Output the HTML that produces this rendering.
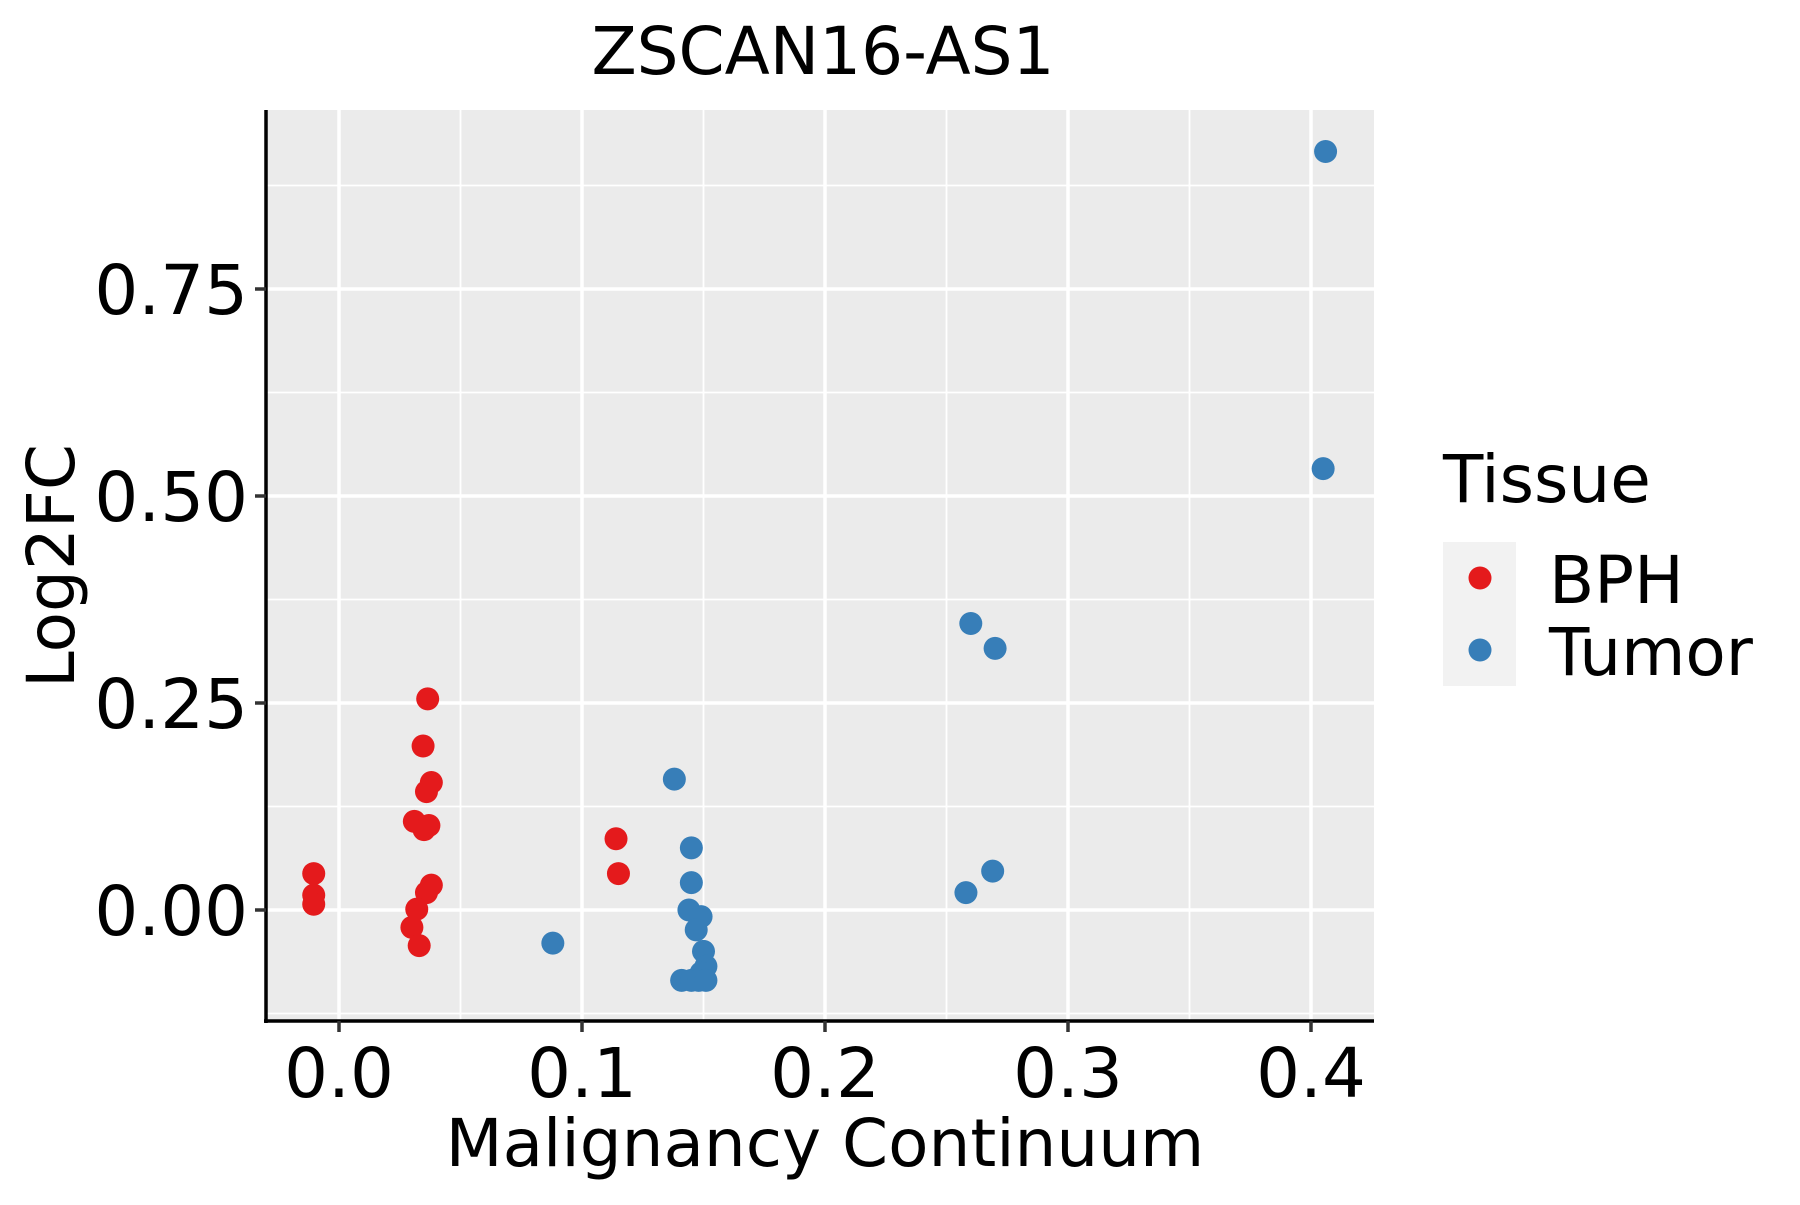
<!DOCTYPE html>
<html><head><meta charset="utf-8"><style>
body{margin:0;background:#fff}
svg text{font-family:"DejaVu Sans","Liberation Sans",sans-serif}
</style></head><body>
<svg width="1800" height="1200" xmlns="http://www.w3.org/2000/svg">
<g id="g"></g>
</svg>
<script>
const xTicks=[0,0.1,0.2,0.3,0.4];
const xTickLabels=["0.0","0.1","0.2","0.3","0.4"];
const yTicks=[0,0.25,0.5,0.75];
const yTickLabels=["0.00","0.25","0.50","0.75"];
const bphX=[-0.0104,-0.0104,-0.0104,0.0365,0.0346,0.038,0.036,0.031,0.035,0.037,0.038,0.036,0.032,0.030,0.033,0.114,0.115];
const bphY=[0.044,0.018,0.007,0.255,0.198,0.154,0.143,0.107,0.097,0.102,0.030,0.021,0.001,-0.021,-0.043,0.086,0.044];
const tumX=[0.088,0.138,0.145,0.145,0.144,0.149,0.147,0.150,0.151,0.149,0.141,0.145,0.148,0.151,0.260,0.270,0.269,0.258,0.406,0.405];
const tumY=[-0.040,0.158,0.075,0.033,0.000,-0.008,-0.024,-0.050,-0.068,-0.076,-0.085,-0.085,-0.085,-0.085,0.346,0.316,0.047,0.021,0.916,0.533];
const L=266,R=1381-7,T=110,B=1021;
const X=v=>339+v*2430, Y=v=>910-v*828;
const g=document.getElementById('g');const NS='http://www.w3.org/2000/svg';
function mk(t,a,txt){const e=document.createElementNS(NS,t);for(const k in a)e.setAttribute(k,a[k]);if(txt!==undefined)e.textContent=txt;g.appendChild(e);return e;}
let e=mk('rect',{x:L,y:T,width:R-L,height:B-T,fill:'#ebebeb'});


for(let v=-0.05;v<=0.43;v+=0.05){const x=X(v);if(x<L||x>R)continue;const major=Math.abs(v*10-Math.round(v*10))<1e-6;
e=mk('line',{x1:x,x2:x,y1:T,y2:B,stroke:'#fff','stroke-width':major?3.5:1.8});

}
for(let v=-0.125;v<=0.96;v+=0.125){const y=Y(v);if(y<T||y>B)continue;const major=Math.abs(v/0.25-Math.round(v/0.25))<1e-6;
e=mk('line',{x1:L,x2:R,y1:y,y2:y,stroke:'#fff','stroke-width':major?3.5:1.8});

}
function pts(xs,ys,c,n){for(let i=0;i<xs.length;i++){e=mk('circle',{cx:X(xs[i]),cy:Y(ys[i]),r:11.5,fill:c});

}}
pts(bphX,bphY,'#e41a1c','bph-point');
pts(tumX,tumY,'#377eb8','tumor-point');
e=mk('line',{x1:L,x2:L,y1:T,y2:B+2,stroke:'#000','stroke-width':3.5});


e=mk('line',{x1:L-2,x2:R,y1:B,y2:B,stroke:'#000','stroke-width':3.5});


xTicks.forEach((v,i)=>{const x=X(v);mk('line',{x1:x,x2:x,y1:B,y2:B+11,stroke:'#333','stroke-width':3.5});
e=mk('text',{x:x,y:1097,'font-size':69,'text-anchor':'middle',fill:'#000'},xTickLabels[i]);

});
yTicks.forEach((v,i)=>{const y=Y(v);mk('line',{x1:L-11,x2:L,y1:y,y2:y,stroke:'#333','stroke-width':3.5});
e=mk('text',{x:248,y:y+25,'font-size':69,'text-anchor':'end',fill:'#000'},yTickLabels[i]);

});
e=mk('text',{x:823,y:74,'font-size':66,'text-anchor':'middle'},'ZSCAN16-AS1');


e=mk('text',{x:825,y:1166,'font-size':66,'text-anchor':'middle'},'Malignancy Continuum');


e=mk('text',{x:0,y:0,'font-size':66,'text-anchor':'middle',transform:'translate(74,566) rotate(-90)'},'Log2FC');


e=mk('text',{x:1443,y:502,'font-size':66},'Tissue');


e=mk('rect',{x:1443,y:542,width:73,height:144,fill:'#f2f2f2'});


e=mk('circle',{cx:1480,cy:578,r:11.5,fill:'#e41a1c'});


e=mk('circle',{cx:1480,cy:650,r:11.5,fill:'#377eb8'});


e=mk('text',{x:1549,y:603,'font-size':66},'BPH');


e=mk('text',{x:1549,y:675,'font-size':66},'Tumor');


</script>
</body></html>
